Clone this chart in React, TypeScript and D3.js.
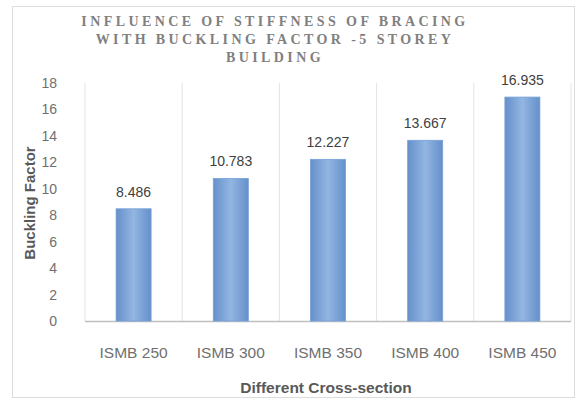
import React from "react";
import * as d3 from "d3";

const categories = ["ISMB 250", "ISMB 300", "ISMB 350", "ISMB 400", "ISMB 450"];
const values = [8.486, 10.783, 12.227, 13.667, 16.935];
const valueLabels = ["8.486", "10.783", "12.227", "13.667", "16.935"];
const yTicks = [0, 2, 4, 6, 8, 10, 12, 14, 16, 18];
const titleLines = ["INFLUENCE OF STIFFNESS OF BRACING", "WITH BUCKLING FACTOR -5 STOREY", "BUILDING"];

export default function App() {
  const W = 577, H = 402;
  const plotL = 85, plotR = 571, plotT = 83, plotB = 321;
  const x = d3.scaleBand<string>().domain(categories).range([plotL, plotR]).paddingInner(0).paddingOuter(0);
  const y = d3.scaleLinear().domain([0, 18]).range([plotB, plotT]);
  const bw = 35;
  const font = "'Liberation Sans', Arial, sans-serif";
  const gridLines = [...categories.map((c) => x(c) as number), plotR];
  return (
    <div style={{ position: "absolute", left: 0, top: 0 }}>
      <svg width={W} height={H} style={{ display: "block" }}>
        <defs>
          <linearGradient id="barGrad" x1="0" x2="1" y1="0" y2="0">
            <stop offset="0%" stopColor="#6590cb" />
            <stop offset="50%" stopColor="#93b6e2" />
            <stop offset="100%" stopColor="#6590cb" />
          </linearGradient>
        </defs>
        <rect x={0} y={0} width={W} height={H} fill="#fff" />
        <rect x={12.5} y={6.5} width={562} height={391} fill="#fff" stroke="#dcdcdc" />
        {titleLines.map((t, i) => (
          <text key={i} x={275} y={26 + i * 18} textAnchor="middle" fontFamily="'Liberation Serif', serif"
            fontWeight="bold" fontSize={14} letterSpacing={3.4} fill="#808080">{t}</text>
        ))}
        {gridLines.map((gx, i) => (
          <line key={i} x1={gx} x2={gx} y1={plotT} y2={plotB} stroke="#e3e3e3" />
        ))}
        <line x1={plotL} x2={plotR} y1={plotB + 0.5} y2={plotB + 0.5} stroke="#bfbfbf" strokeWidth={1.5} />
        {yTicks.map((t) => (
          <text key={t} x={57} y={y(t) + 5} textAnchor="end" fontFamily={font} fontSize={14} fill="#6f6f6f">{t}</text>
        ))}
        {categories.map((c, i) => {
          const cx = (x(c) as number) + x.bandwidth() / 2;
          return (
            <g key={c}>
              <rect x={cx - bw / 2} y={y(values[i])} width={bw} height={plotB - y(values[i])} fill="url(#barGrad)" stroke="#74a0d6" strokeWidth={0.8} />
              <text x={cx} y={y(values[i]) - 12} textAnchor="middle" fontFamily={font} fontSize={14} fill="#404040">{valueLabels[i]}</text>
              <text x={cx} y={358} textAnchor="middle" fontFamily={font} fontSize={15.5} fill="#6f6f6f">{c}</text>
            </g>
          );
        })}
        <text x={(plotL + plotR) / 2 - 2} y={393} textAnchor="middle" fontFamily={font} fontWeight="bold" fontSize={15.5} fill="#595959">Different Cross-section</text>
        <text transform={`translate(35,${(plotT + plotB) / 2 + 1}) rotate(-90)`} textAnchor="middle" fontFamily={font} fontWeight="bold" fontSize={15} fill="#595959">Buckling Factor</text>
      </svg>
    </div>
  );
}
